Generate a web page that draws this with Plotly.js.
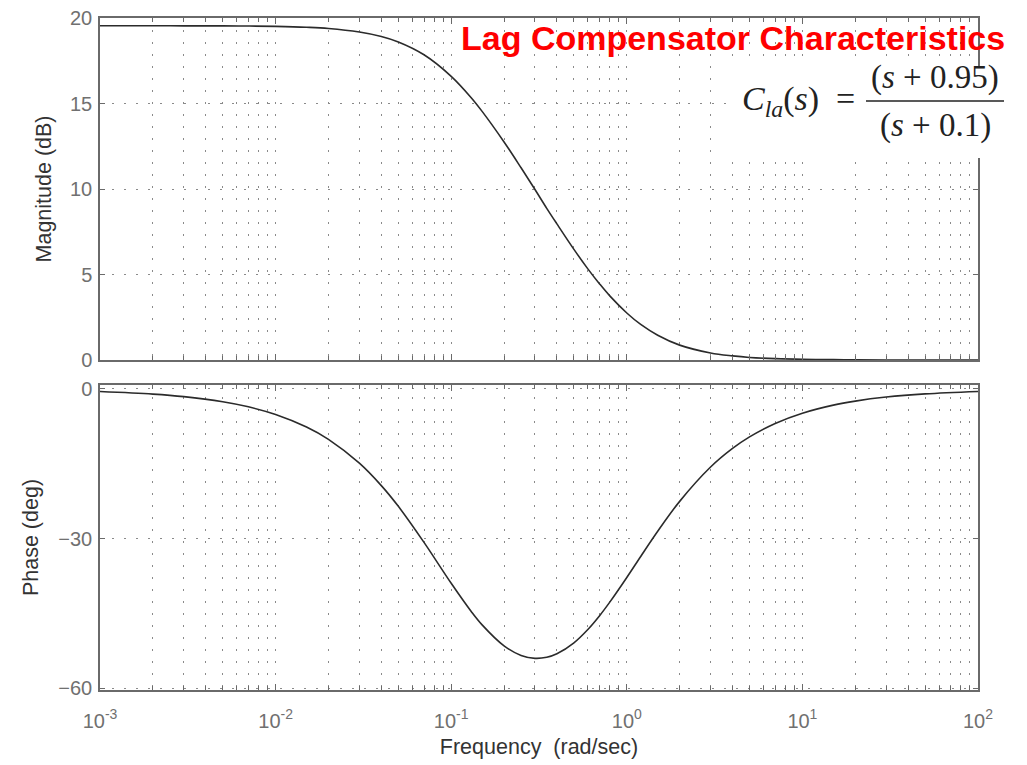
<!DOCTYPE html>
<html>
<head>
<meta charset="utf-8">
<script src="https://cdn.plot.ly/plotly-3.0.1.min.js"></script>
<style>html,body{margin:0;padding:0;background:#fff;}#chart{width:1027px;height:765px;}</style>
</head>
<body>
<div id="chart"></div>
<script>
// Frequencies (rad/sec) read along the log axis
const freq = [0.001, 0.002, 0.003, 0.005, 0.007, 0.01, 0.015, 0.02, 0.03, 0.04, 0.05, 0.07, 0.1, 0.13, 0.15, 0.2, 0.25, 0.3, 0.35, 0.4, 0.5, 0.6, 0.7, 0.8, 1, 1.2, 1.5, 2, 3, 4, 5, 7, 10, 15, 20, 30, 50, 100];
// Magnitude (dB)
const magnitude = [19.55, 19.55, 19.54, 19.54, 19.53, 19.51, 19.46, 19.39, 19.18, 18.92, 18.60, 17.85, 16.59, 15.34, 14.54, 12.75, 11.24, 9.97, 8.87, 7.96, 6.47, 5.33, 4.45, 3.75, 2.75, 2.08, 1.45, 0.87, 0.41, 0.24, 0.15, 0.08, 0.04, 0.02, 0.01, 0.004, 0.002, 0.0004];
// Phase (deg)
const phase = [-0.51, -1.03, -1.54, -2.56, -3.58, -5.11, -7.63, -10.10, -14.89, -19.39, -23.55, -30.78, -38.99, -44.64, -47.34, -51.55, -53.46, -54.05, -53.83, -53.13, -50.93, -48.26, -45.49, -42.77, -37.82, -33.60, -28.54, -22.55, -15.66, -11.93, -9.61, -6.91, -4.86, -3.24, -2.43, -1.62, -0.98, -0.49];

const decades = [-3, -2, -1, 0, 1, 2];
const magTicks = [0, 5, 10, 15, 20];
const phaseTicks = [0, -30, -60];
const titleText = "Lag Compensator Characteristics";
const xTitle = "Frequency  (rad/sec)";
const magTitle = "Magnitude (dB)";
const phaseTitle = "Phase (deg)";

// decade ticks (labelled) and in-between minor ticks (2..9 per decade)
const xTickVals = decades.map(d => Math.pow(10, d));
const xTickText = decades.map(d => "10<sup>" + d + "</sup>");
const xMinorVals = [];
decades.slice(0, -1).forEach(d => {
  for (let m = 2; m <= 9; m++) xMinorVals.push(m * Math.pow(10, d));
});

const W = 1027, H = 765;
const px = v => v / W;
const py = v => 1 - v / H;

const gridDash = "2px,10px";
const gridColor = "#8a8a8a";
const frameColor = "#6a6a6a";
const tickFont = {family: "Liberation Sans, Arial, sans-serif", size: 20, color: "#707070"};
const titleFont = {family: "Liberation Sans, Arial, sans-serif", size: 21.5, color: "#333"};
const serif = "Liberation Serif, Times New Roman, serif";

const xBase = {
  type: "log", range: [-3, 2], domain: [px(100), px(978)],
  tickmode: "array", tickvals: xTickVals, ticktext: xTickText,
  ticks: "inside", ticklen: 6, tickcolor: frameColor,
  minor: {tickmode: "array", tickvals: xMinorVals, ticks: "inside", ticklen: 4, tickcolor: frameColor,
          showgrid: true, gridcolor: gridColor, griddash: gridDash, gridwidth: 1},
  showgrid: true, gridcolor: gridColor, griddash: gridDash, gridwidth: 1,
  showline: true, linecolor: frameColor, linewidth: 1.5, mirror: "allticks",
  zeroline: false, automargin: false, tickfont: tickFont
};

const data = [
  {x: freq, y: magnitude, xaxis: "x", yaxis: "y", type: "scatter", mode: "lines",
   line: {color: "#2b2b2b", width: 1.6, shape: "spline"}, hoverinfo: "x+y"},
  {x: freq, y: phase, xaxis: "x2", yaxis: "y2", type: "scatter", mode: "lines",
   line: {color: "#2b2b2b", width: 1.6, shape: "spline"}, hoverinfo: "x+y"}
];

const layout = {
  width: W, height: H,
  margin: {l: 0, r: 0, t: 0, b: 0},
  paper_bgcolor: "#fff", plot_bgcolor: "#fff",
  showlegend: false,
  xaxis: Object.assign({}, xBase, {anchor: "y", showticklabels: false}),
  xaxis2: Object.assign({}, xBase, {anchor: "y2", showticklabels: true, ticklabelstandoff: 12,
    title: {text: xTitle, font: titleFont, standoff: 8}}),
  yaxis: {
    domain: [py(360), py(18)], range: [0, 20],
    tickmode: "array", tickvals: magTicks, ticks: "inside", ticklen: 5, tickcolor: frameColor,
    showgrid: true, gridcolor: gridColor, griddash: gridDash, gridwidth: 1,
    showline: true, linecolor: frameColor, linewidth: 1.5, mirror: "allticks",
    zeroline: false, automargin: false, tickfont: tickFont, ticklabelstandoff: 2,
    title: {text: magTitle, font: titleFont, standoff: 12}
  },
  yaxis2: {
    domain: [py(690), py(385)], range: [-60.4, 0.8],
    tickmode: "array", tickvals: phaseTicks, ticks: "inside", ticklen: 5, tickcolor: frameColor,
    showgrid: true, gridcolor: gridColor, griddash: gridDash, gridwidth: 1,
    showline: true, linecolor: frameColor, linewidth: 1.5, mirror: "allticks",
    zeroline: false, automargin: false, tickfont: tickFont, ticklabelstandoff: 2,
    title: {text: phaseTitle, font: titleFont, standoff: 14}
  },
  shapes: [
    {type: "rect", xref: "paper", yref: "paper", x0: px(726), x1: px(1012), y0: py(158), y1: py(66),
     fillcolor: "#fff", line: {width: 0}, layer: "above"},
    {type: "line", xref: "paper", yref: "paper", x0: px(866), x1: px(1004), y0: py(101), y1: py(101),
     line: {color: "#222", width: 1.5}, layer: "above"}
  ],
  annotations: [
    {text: "<b>" + titleText + "</b>", xref: "paper", yref: "paper", x: px(733), y: py(38),
     xanchor: "center", yanchor: "middle", showarrow: false,
     font: {family: "Liberation Sans, Arial, sans-serif", size: 34, color: "#ff0000"}},
    {text: "<i>C</i><sub><i>la</i></sub>(<i>s</i>)\u00a0\u00a0=", xref: "paper", yref: "paper", x: px(857), y: py(101),
     xanchor: "right", yanchor: "middle", showarrow: false,
     font: {family: serif, size: 34, color: "#222"}},
    {text: "(<i>s</i>\u00a0+\u00a00.95)", xref: "paper", yref: "paper", x: px(935), y: py(78),
     xanchor: "center", yanchor: "middle", showarrow: false,
     font: {family: serif, size: 33, color: "#222"}},
    {text: "(<i>s</i>\u00a0+\u00a00.1)", xref: "paper", yref: "paper", x: px(935), y: py(126),
     xanchor: "center", yanchor: "middle", showarrow: false,
     font: {family: serif, size: 33, color: "#222"}}
  ]
};

Plotly.newPlot("chart", data, layout, {displayModeBar: false, staticPlot: false});
</script>
</body>
</html>
